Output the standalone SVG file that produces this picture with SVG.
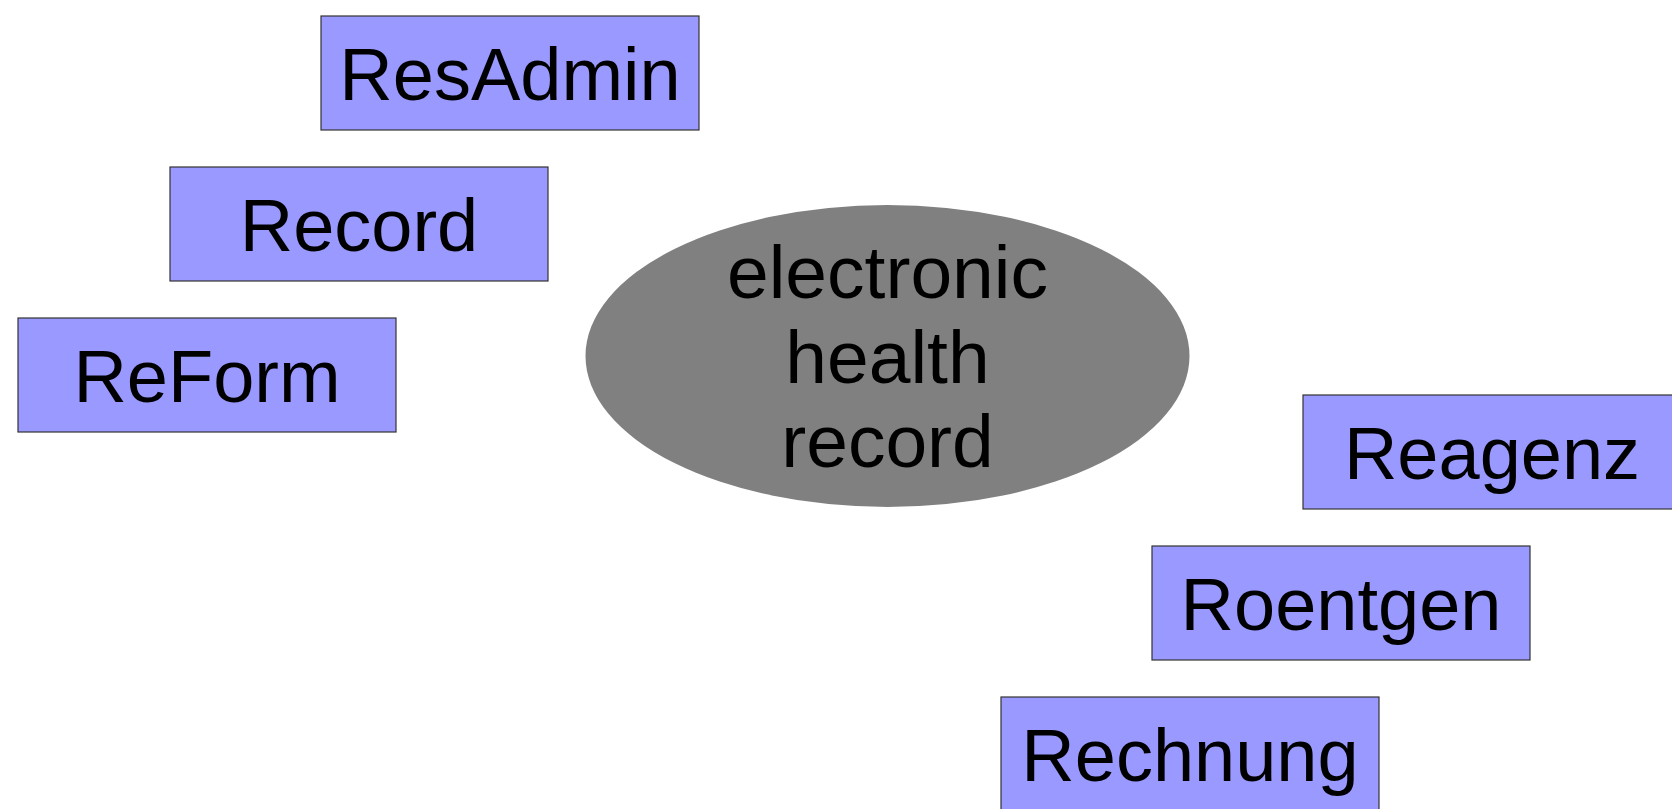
<svg xmlns="http://www.w3.org/2000/svg" width="1672" height="809" viewBox="0 0 1672 809">
<style>
.box{fill:#9999ff;stroke:#333333;stroke-width:1.2}
.lbl{font-family:"Liberation Sans",Arial,sans-serif;font-size:74px;fill:#000;text-anchor:middle}
.ctr{font-family:"Liberation Sans",Arial,sans-serif;font-size:75px;fill:#000;text-anchor:middle}
</style>
<rect width="1672" height="809" fill="#ffffff"/>
<g id="connectors"></g>
<g id="ehr">
<ellipse cx="887.5" cy="356" rx="302" ry="151" fill="#808080"/>
<text class="ctr" x="887.5" y="298">electronic</text>
<text class="ctr" x="887.5" y="383">health</text>
<text class="ctr" x="887.5" y="467">record</text>
</g>
<g id="resadmin"><rect class="box" x="321" y="16" width="378" height="114"/><text class="lbl" x="510" y="100">ResAdmin</text></g>
<g id="record"><rect class="box" x="170" y="167" width="378" height="114"/><text class="lbl" x="359" y="251">Record</text></g>
<g id="reform"><rect class="box" x="18" y="318" width="378" height="114"/><text class="lbl" x="207" y="402">ReForm</text></g>
<g id="reagenz"><rect class="box" x="1303" y="395" width="378" height="114"/><text class="lbl" x="1492" y="479">Reagenz</text></g>
<g id="roentgen"><rect class="box" x="1152" y="546" width="378" height="114"/><text class="lbl" x="1341" y="630">Roentgen</text></g>
<g id="rechnung"><rect class="box" x="1001" y="697" width="378" height="114"/><text class="lbl" x="1190" y="781">Rechnung</text></g>
</svg>
